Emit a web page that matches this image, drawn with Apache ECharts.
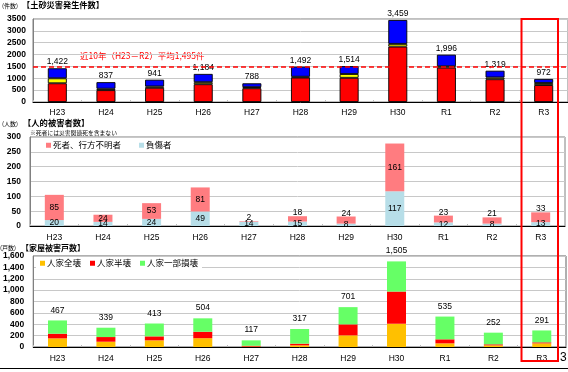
<!DOCTYPE html>
<html><head><meta charset="utf-8">
<script src="https://cdn.jsdelivr.net/npm/echarts@6/dist/echarts.min.js"></script>
<style>html,body{margin:0;padding:0;background:#fff}#c{width:568px;height:372px}</style>
</head><body><div id="c"></div>
<script>
const categories = ['H23','H24','H25','H26','H27','H28','H29','H30','R1','R2','R3'];
// 土砂災害発生件数
const slopeFailure = [790,500,600,750,580,1030,1020,2335,1450,960,715];
const landslide    = [210,60,55,85,45,35,160,115,55,75,85];
const debrisFlow   = [422,277,286,349,163,427,334,1009,491,284,172];
const avg10 = 1495;
const disasterTicks = [0,500,1000,1500,2000,2500,3000,3500];
// 人的被害者数
const deaths  = [85,24,53,81,2,18,24,161,23,21,33];
const injured = [20,14,24,49,14,15,8,117,12,8,13];
const casualtyTicks = [0,50,100,150,200,250,300];
// 家屋被害戸数
const houseFull    = [152,93,117,155,8,29,205,409,64,29,64];
const houseHalf    = [82,82,70,113,14,30,193,566,71,18,18];
const housePartial = [233,164,226,236,95,258,303,530,400,205,209];
const houseTicks = [0,200,400,600,800,1000,1200,1400,1600];

const topLabelCats = ['H27','H28','H29','R1','R2','R3'];
const FONT = '"Liberation Sans", Arial, "Noto Sans CJK JP", sans-serif';
const JP = '"Noto Sans CJK JP", sans-serif';
const fmt = v => Number(v).toLocaleString('en-US');

const chart = echarts.init(document.getElementById('c'), null, {renderer:'canvas'});

function xAx(gi){
  return {type:'category', gridIndex:gi, data:categories,
    axisLine:{show:true, lineStyle:{color:'#000', width:1}},
    axisTick:{show:true, inside:true, length:2, lineStyle:{color:'#bbb'}},
    axisLabel:{fontSize:8.5, color:'#000', fontFamily:FONT, margin:gi===0?6:7}};
}
function yAx(gi, ticks, margin, comma){
  return {type:'value', gridIndex:gi, min:ticks[0], max:ticks[ticks.length-1], interval:ticks[1]-ticks[0],
    axisLine:{show:true, lineStyle:{color:'#808080'}}, axisTick:{show:false},
    splitLine:{lineStyle:{color:'#c8c8c8', width:1}},
    axisLabel:{fontSize:8.5, fontWeight:'bold', color:'#000', fontFamily:FONT, margin:margin,
      formatter: comma ? fmt : (v => String(v))}};
}
const totals1 = categories.map((c,i)=>slopeFailure[i]+landslide[i]+debrisFlow[i]);
const totals3 = categories.map((c,i)=>houseFull[i]+houseHalf[i]+housePartial[i]);
const b1 = {borderColor:'#000', borderWidth:0.9};

chart.setOption({
  animation:false,
  textStyle:{fontFamily:FONT},
  grid:[
    {left:33, right:0, top:19, height:83, show:true, borderColor:'#808080', borderWidth:1},
    {left:30, right:3, top:137, height:89, show:true, borderColor:'#808080', borderWidth:1},
    {left:30, right:2, top:256, height:91, show:true, borderColor:'#606060', borderWidth:1}
  ],
  xAxis:[xAx(0), xAx(1), xAx(2)],
  yAxis:[yAx(0, disasterTicks, 7, false), yAx(1, casualtyTicks, 9, false), yAx(2, houseTicks, 9, true)],
  legend:[
    {data:['死者、行方不明者','負傷者'], left:42, top:139, icon:'rect', itemWidth:5, itemHeight:5, itemGap:18,
     selectedMode:false, backgroundColor:'#fff', padding:[2,4],
     textStyle:{fontSize:8.5, color:'#000', fontFamily:JP, padding:[0,0,0,-3]}},
    {data:['人家全壊','人家半壊','人家一部損壊'], left:36, top:257, icon:'rect', itemWidth:5, itemHeight:5, itemGap:9,
     selectedMode:false, backgroundColor:'#fff', padding:[2,4],
     textStyle:{fontSize:8.5, color:'#000', fontFamily:JP, padding:[0,0,0,-3]}}
  ],
  series:[
    {name:'がけ崩れ', type:'bar', stack:'a', xAxisIndex:0, yAxisIndex:0, barWidth:19, data:slopeFailure,
     itemStyle:Object.assign({color:'#FF0000'}, b1),
     markLine:{silent:true, symbol:'none', label:{show:false},
       lineStyle:{color:'#FF0000', type:[5,3], width:1.5}, data:[{yAxis:avg10}]}},
    {name:'地すべり', type:'bar', stack:'a', xAxisIndex:0, yAxisIndex:0, barWidth:19, data:landslide,
     itemStyle:Object.assign({color:'#FFFF00'}, b1)},
    {name:'土石流等', type:'bar', stack:'a', xAxisIndex:0, yAxisIndex:0, barWidth:19, data:debrisFlow,
     itemStyle:Object.assign({color:'#0000FF'}, b1),
     label:{show:true, position:'top', distance:2, fontSize:8.5, color:'#000', fontFamily:FONT,
       formatter:p=>fmt(totals1[p.dataIndex])}},
    {name:'負傷者', type:'bar', stack:'b', xAxisIndex:1, yAxisIndex:1, barWidth:19, data:injured,
     itemStyle:{color:'#B7DEE8'},
     label:{show:true, position:'inside', fontSize:8.5, color:'#000', fontFamily:FONT}},
    {name:'死者、行方不明者', type:'bar', stack:'b', xAxisIndex:1, yAxisIndex:1, barWidth:19,
     data:deaths.map((v,i)=> topLabelCats.includes(categories[i])
        ? {value:v, label:{position:'top', distance:-1}} : v),
     itemStyle:{color:'#FF7C80'},
     label:{show:true, position:'inside', fontSize:8.5, color:'#000', fontFamily:FONT}},
    {name:'人家全壊', type:'bar', stack:'c', xAxisIndex:2, yAxisIndex:2, barWidth:19, data:houseFull,
     itemStyle:{color:'#FFC000'}},
    {name:'人家半壊', type:'bar', stack:'c', xAxisIndex:2, yAxisIndex:2, barWidth:19, data:houseHalf,
     itemStyle:{color:'#FF0000'}},
    {name:'人家一部損壊', type:'bar', stack:'c', xAxisIndex:2, yAxisIndex:2, barWidth:19, data:housePartial,
     itemStyle:{color:'#66FF66'},
     label:{show:true, position:'top', distance:6, fontSize:8.5, color:'#000', fontFamily:FONT,
       formatter:p=>fmt(totals3[p.dataIndex])}}
  ],
  graphic:[
    {type:'text', left:2, top:3, style:{text:'(件数)', fontSize:6, fontFamily:JP, fill:'#000'}},
    {type:'text', left:22, top:1, style:{text:'【土砂災害発生件数】', fontSize:8.2, fontWeight:'bold', fontFamily:JP, fill:'#000'}},
    {type:'text', left:80, top:52, style:{text:'近10年（H23－R2）平均1,495件', fontSize:8.5, fontFamily:JP, fill:'#FF0000'}},
    {type:'text', left:2, top:121, style:{text:'(人数)', fontSize:6, fontFamily:JP, fill:'#000'}},
    {type:'text', left:23, top:119, style:{text:'【人的被害者数】', fontSize:8.3, fontWeight:'bold', fontFamily:JP, fill:'#000'}},
    {type:'text', left:30, top:130, style:{text:'※死者には災害関連死を含まない', fontSize:5.8, fontFamily:JP, fill:'#000'}},
    {type:'text', left:0, top:245, style:{text:'(戸数)', fontSize:6, fontFamily:JP, fill:'#000'}},
    {type:'text', left:21, top:244, style:{text:'【家屋被害戸数】', fontSize:8, fontWeight:'bold', fontFamily:JP, fill:'#000'}},
    {type:'rect', shape:{x:521.5, y:19, width:36.5, height:342}, style:{fill:'none', stroke:'#FF0000', lineWidth:2}, z:100},
    {type:'line', shape:{x1:0, y1:368.5, x2:568, y2:368.5}, style:{stroke:'#000', lineWidth:1}},
    {type:'text', left:560, top:352, style:{text:'3', fontSize:12, fontFamily:FONT, fill:'#000'}}
  ]
});
</script></body></html>
